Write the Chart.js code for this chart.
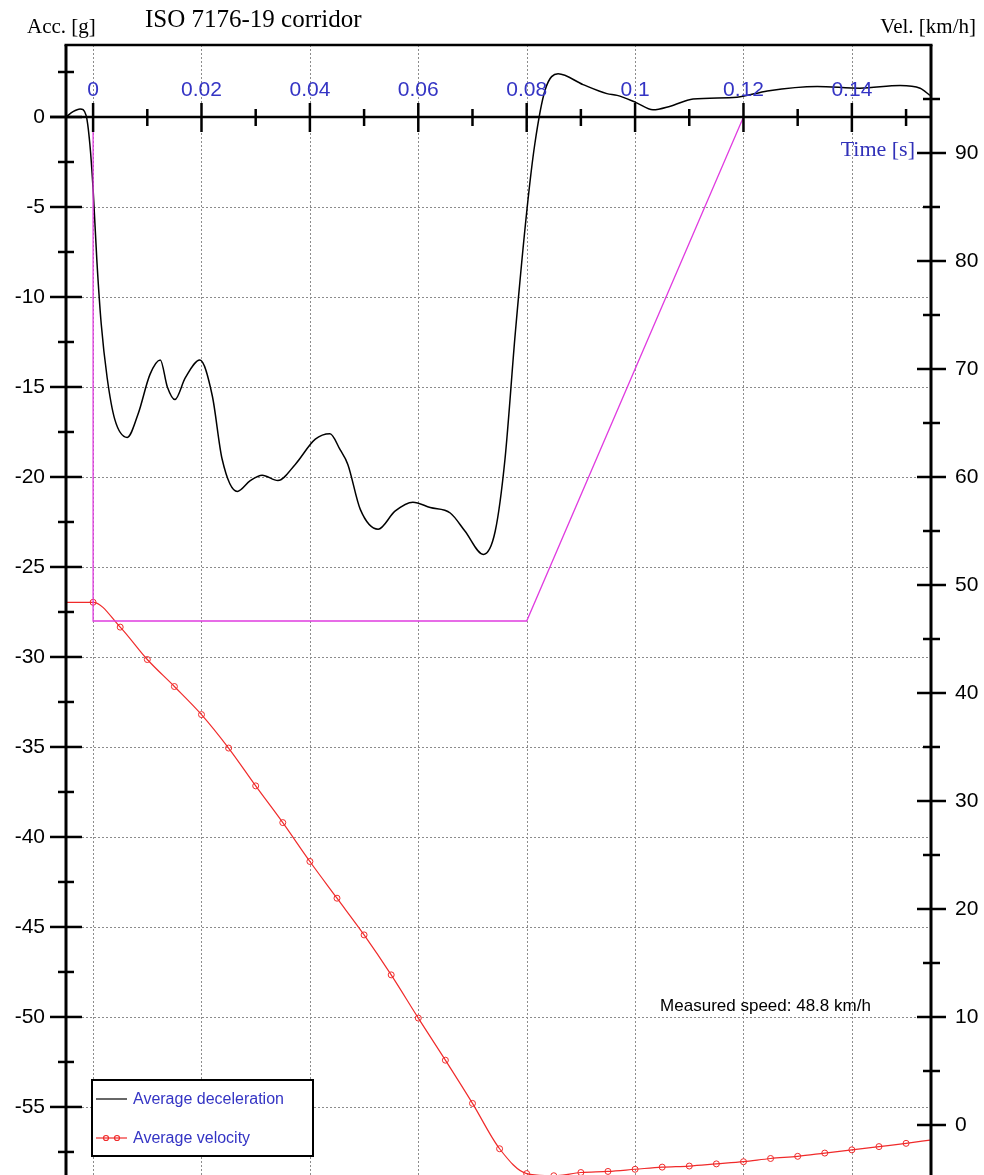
<!DOCTYPE html>
<html>
<head>
<meta charset="utf-8">
<title>ISO 7176-19 corridor</title>
<script src="https://cdn.jsdelivr.net/npm/chart.js@4.4.1/dist/chart.umd.min.js"></script>
<style>
  html, body { margin: 0; padding: 0; background: #fff; }
  #wrap { position: relative; width: 984px; height: 1175px; }
</style>
</head>
<body>
<div id="wrap"><canvas id="chart"></canvas></div>
<script>
// average deceleration [g] over time [s]
const accTime = [-0.005, -0.0037, -0.0024, -0.0013, -0.0006, 0, 0.0007, 0.0015, 0.0026, 0.004,
  0.0063, 0.0083, 0.0105, 0.0124, 0.0137, 0.0151, 0.017, 0.0197, 0.022, 0.0238,
  0.0266, 0.029, 0.0312, 0.0341, 0.0373, 0.041, 0.0437, 0.0456, 0.047, 0.0493,
  0.0526, 0.0557, 0.059, 0.0622, 0.0659, 0.0686, 0.072, 0.0742, 0.076, 0.0779,
  0.0801, 0.0815, 0.0834, 0.0858, 0.0904, 0.0948, 0.0967, 0.1002, 0.1033, 0.1065,
  0.1107, 0.1188, 0.1244, 0.1336, 0.1415, 0.1489, 0.1526, 0.1544];
const accValues = [0, 0.3, 0.45, 0.1, -1.5, -4, -8, -11.5, -14.5, -16.8,
  -17.8, -16.5, -14.3, -13.5, -15, -15.7, -14.5, -13.5, -15.5, -19,
  -20.8, -20.2, -19.9, -20.2, -19.3, -17.9, -17.6, -18.5, -19.3, -21.8,
  -22.9, -21.9, -21.4, -21.7, -22, -23, -24.3, -23, -19, -12,
  -5, -1.5, 1.5, 2.4, 1.8, 1.3, 1.2, 0.8, 0.4, 0.6,
  1.0, 1.1, 1.45, 1.7, 1.6, 1.75, 1.6, 1.2];

// average velocity [km/h], markers every 5 ms
const velTime = [-0.005, 0, 0.005, 0.01, 0.015, 0.02, 0.025, 0.03, 0.035, 0.04, 0.045,
  0.05, 0.055, 0.06, 0.065, 0.07, 0.075, 0.08, 0.085, 0.09, 0.095,
  0.1, 0.105, 0.11, 0.115, 0.12, 0.125, 0.13, 0.135, 0.14, 0.145, 0.15, 0.1544];
const velValues = [48.4, 48.4, 46.1, 43.1, 40.6, 38.0, 34.9, 31.4, 28.0, 24.4, 21.0,
  17.6, 13.9, 9.9, 6.0, 2.0, -2.2, -4.5, -4.7, -4.4, -4.3,
  -4.1, -3.9, -3.8, -3.6, -3.4, -3.1, -2.9, -2.6, -2.3, -2.0, -1.7, -1.4];

// ISO 7176-19 corridor
const corridorTime = [0, 0, 0.08, 0.12];
const corridorAcc = [0, -28, -28, 0];

// tick labels
const timeTicks = [0, 0.02, 0.04, 0.06, 0.08, 0.1, 0.12, 0.14];
const timeMinor = [0.01, 0.03, 0.05, 0.07, 0.09, 0.11, 0.13, 0.15];
const accTicks = [0, -5, -10, -15, -20, -25, -30, -35, -40, -45, -50, -55];
const accMinor = [2.5, -2.5, -7.5, -12.5, -17.5, -22.5, -27.5, -32.5, -37.5, -42.5, -47.5, -52.5, -57.5];
const velTicks = [0, 10, 20, 30, 40, 50, 60, 70, 80, 90];
const velMinor = [5, 15, 25, 35, 45, 55, 65, 75, 85, 95];

const measuredText = "Measured speed: 48.8 km/h";

const SANS = '"Liberation Sans", Arial, sans-serif';
const SERIF = '"Liberation Serif", "Times New Roman", serif';
const BLUE = "#3434c4";
const RED = "#f02a2a";

function pts(xs, ys) {
  return xs.map((x, i) => ({ x: x, y: ys[i] }));
}

function seg(ctx, x1, y1, x2, y2) {
  ctx.beginPath();
  ctx.moveTo(x1, y1);
  ctx.lineTo(x2, y2);
  ctx.stroke();
}

const framePlugin = {
  id: "frame",
  beforeDatasetsDraw(chart) {
    const { ctx, chartArea: a, scales: { x, y } } = chart;
    ctx.save();
    ctx.strokeStyle = "#8c8c8c";
    ctx.lineWidth = 1;
    ctx.setLineDash([2, 2]);
    timeTicks.forEach(t => {
      const px = Math.round(x.getPixelForValue(t)) + 0.5;
      seg(ctx, px, a.top, px, a.bottom);
    });
    accTicks.forEach(v => {
      if (v === 0) return;
      const py = Math.round(y.getPixelForValue(v)) + 0.5;
      seg(ctx, a.left, py, a.right, py);
    });
    ctx.restore();
  },
  afterDatasetsDraw(chart) {
    const { ctx, chartArea: a, scales: { x, y, y2 } } = chart;
    const y0 = y.getPixelForValue(0);
    ctx.save();
    ctx.strokeStyle = "#000";
    ctx.lineCap = "butt";

    // frame: top, left and right axis
    ctx.lineWidth = 2.5;
    seg(ctx, a.left - 1.5, a.top, a.right + 1.5, a.top);
    ctx.lineWidth = 3;
    seg(ctx, a.left, a.top, a.left, a.bottom);
    seg(ctx, a.right, a.top, a.right, a.bottom);

    // time axis through zero
    ctx.lineWidth = 2.5;
    seg(ctx, a.left - 16, y0, a.right, y0);
    timeTicks.forEach(t => {
      const px = x.getPixelForValue(t);
      seg(ctx, px, y0 - 14, px, y0 + 15);
    });
    timeMinor.forEach(t => {
      const px = x.getPixelForValue(t);
      seg(ctx, px, y0 - 8, px, y0 + 9);
    });

    // left axis ticks
    accTicks.forEach(v => {
      const py = y.getPixelForValue(v);
      seg(ctx, a.left - 16, py, a.left + 16, py);
    });
    accMinor.forEach(v => {
      const py = y.getPixelForValue(v);
      seg(ctx, a.left - 8, py, a.left + 8, py);
    });

    // right axis ticks
    velTicks.forEach(v => {
      const py = y2.getPixelForValue(v);
      seg(ctx, a.right - 14, py, a.right + 15, py);
    });
    velMinor.forEach(v => {
      const py = y2.getPixelForValue(v);
      seg(ctx, a.right - 8, py, a.right + 9, py);
    });

    // tick labels
    ctx.font = "21px " + SANS;
    ctx.fillStyle = BLUE;
    ctx.textAlign = "center";
    ctx.textBaseline = "alphabetic";
    timeTicks.forEach(t => {
      ctx.fillText(String(t), x.getPixelForValue(t), y0 - 21);
    });

    ctx.fillStyle = "#000";
    ctx.textAlign = "right";
    ctx.textBaseline = "middle";
    accTicks.forEach(v => {
      ctx.fillText(String(v), a.left - 21, y.getPixelForValue(v));
    });
    ctx.textAlign = "left";
    velTicks.forEach(v => {
      ctx.fillText(String(v), a.right + 24, y2.getPixelForValue(v));
    });
    ctx.restore();
  },
  afterDraw(chart) {
    const { ctx, chartArea: a, scales: { x, y2 } } = chart;
    const ds = chart.data.datasets;
    ctx.save();

    // titles
    ctx.fillStyle = "#000";
    ctx.textBaseline = "alphabetic";
    ctx.font = "25px " + SERIF;
    ctx.textAlign = "left";
    ctx.fillText("ISO 7176-19 corridor", 145, 27);
    ctx.font = "21px " + SERIF;
    ctx.fillText("Acc. [g]", 27, 33);
    ctx.textAlign = "right";
    ctx.fillText("Vel. [km/h]", 976, 33);
    ctx.fillStyle = "#3030b8";
    ctx.font = "22px " + SERIF;
    ctx.fillText("Time [s]", a.right - 16, 156);

    // measured speed note
    ctx.fillStyle = "#000";
    ctx.font = "17px " + SANS;
    ctx.textAlign = "right";
    ctx.fillText(measuredText, x.getPixelForValue(0.1435), y2.getPixelForValue(10) - 6);

    // legend box
    const lx = 92, ly = 1080, lw = 221, lh = 76;
    ctx.fillStyle = "#fff";
    ctx.fillRect(lx, ly, lw, lh);
    ctx.strokeStyle = "#000";
    ctx.lineWidth = 2;
    ctx.strokeRect(lx, ly, lw, lh);

    ctx.lineWidth = 1.2;
    ctx.strokeStyle = "#000";
    seg(ctx, lx + 4, ly + 19, lx + 35, ly + 19);
    ctx.strokeStyle = RED;
    seg(ctx, lx + 4, ly + 58, lx + 35, ly + 58);
    [lx + 14, lx + 25].forEach(cx => {
      ctx.beginPath();
      ctx.arc(cx, ly + 58, 2.5, 0, Math.PI * 2);
      ctx.stroke();
    });

    ctx.fillStyle = BLUE;
    ctx.font = "16px " + SANS;
    ctx.textAlign = "left";
    ctx.fillText(ds[1].label, lx + 41, ly + 24);
    ctx.fillText(ds[2].label, lx + 41, ly + 63);
    ctx.restore();
  }
};

new Chart(document.getElementById("chart"), {
  type: "line",
  data: {
    datasets: [
      {
        label: "ISO 7176-19 corridor",
        data: pts(corridorTime, corridorAcc),
        yAxisID: "y",
        borderColor: "#e03ce0",
        borderWidth: 1.3,
        pointRadius: 0,
        tension: 0
      },
      {
        label: "Average deceleration",
        data: pts(accTime, accValues),
        yAxisID: "y",
        borderColor: "#000",
        borderWidth: 1.5,
        pointRadius: 0,
        cubicInterpolationMode: "monotone"
      },
      {
        label: "Average velocity",
        data: pts(velTime, velValues),
        yAxisID: "y2",
        borderColor: RED,
        borderWidth: 1.2,
        cubicInterpolationMode: "monotone",
        pointStyle: "circle",
        pointRadius: c => (c.dataIndex === 0 || c.dataIndex === velTime.length - 1) ? 0 : 3,
        pointBorderColor: RED,
        pointBackgroundColor: "rgba(255,255,255,0)",
        pointBorderWidth: 1
      }
    ]
  },
  options: {
    responsive: true,
    maintainAspectRatio: false,
    animation: false,
    layout: { padding: { left: 66, right: 53, top: 45, bottom: 0 } },
    plugins: { legend: { display: false }, tooltip: { enabled: false } },
    scales: {
      x: { type: "linear", min: -0.005, max: 0.1546, display: false },
      y: { type: "linear", min: -58.78, max: 4, display: false },
      y2: { type: "linear", position: "right", min: -4.63, max: 100, display: false }
    }
  },
  plugins: [framePlugin]
});
</script>
</body>
</html>
